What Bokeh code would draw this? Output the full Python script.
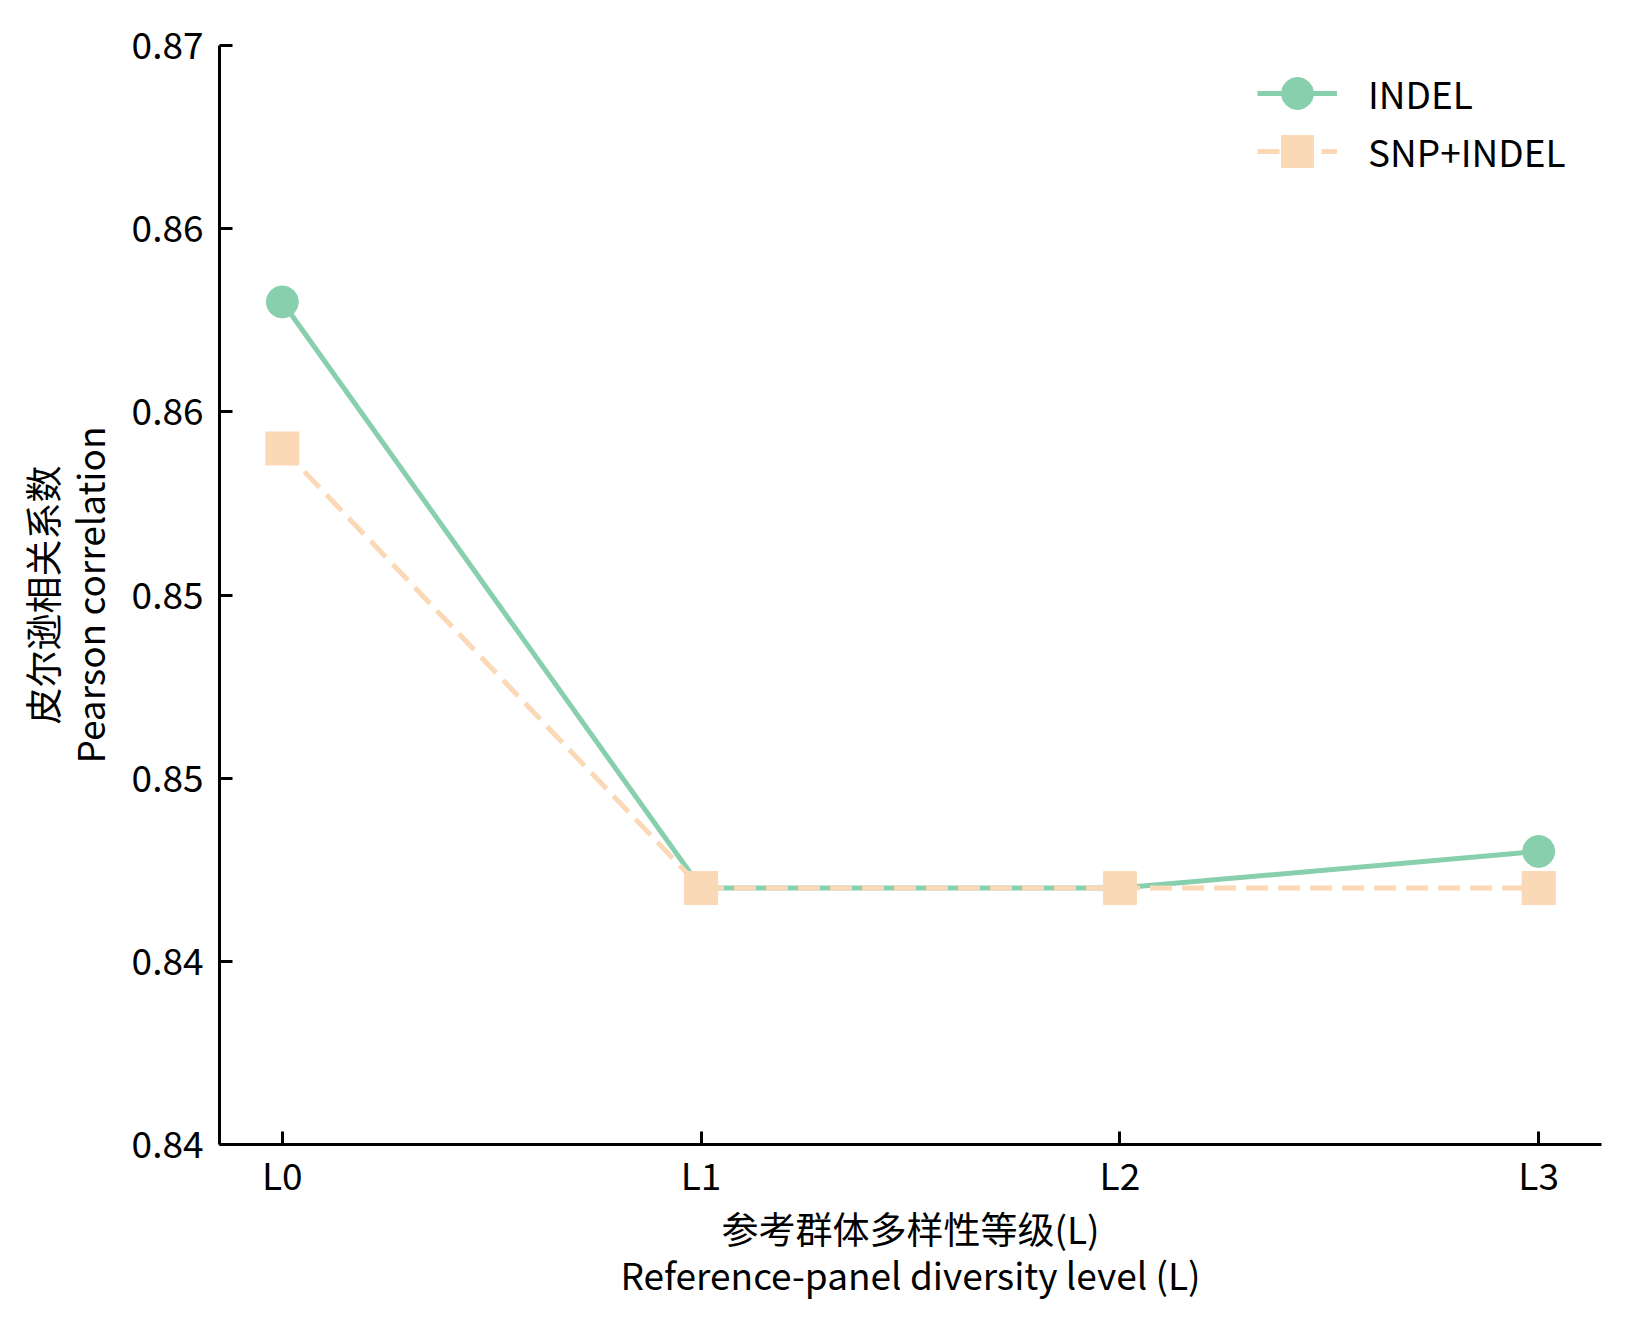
from bokeh.plotting import figure
from bokeh.models import Range1d, FixedTicker, CustomJSTickFormatter, Legend
from bokeh.embed import file_html
from bokeh.resources import INLINE

# ---- data ----
categories = ["L0", "L1", "L2", "L3"]
indel = [0.863, 0.847, 0.847, 0.848]
snp_indel = [0.859, 0.847, 0.847, 0.847]
y_ticks = [0.84, 0.845, 0.85, 0.855, 0.86, 0.865, 0.87]
y_tick_labels = ["0.84", "0.84", "0.85", "0.85", "0.86", "0.86", "0.87"]
series_names = ["INDEL", "SNP+INDEL"]
x_label = "参考群体多样性等级(L)\nReference-panel diversity level (L)"
y_label = "皮尔逊相关系数\nPearson correlation"

GREEN = "#88D0AD"
PEACH = "#FBD8B6"
FONT = "Noto Sans CJK SC"
FS = "37px"

x = list(range(len(categories)))

p = figure(
    output_backend="svg", toolbar_location=None,
    frame_width=1382, frame_height=1099,
    min_border_left=219, min_border_top=45, min_border_right=20, min_border_bottom=180,
    x_range=Range1d(-0.15, len(categories) - 1 + 0.15),
    y_range=Range1d(y_ticks[0], y_ticks[-1]),
    background_fill_color="white", border_fill_color="white",
)
p.outline_line_color = None
p.grid.visible = False

l1 = p.line(x, indel, line_color=GREEN, line_width=5)
s1 = p.scatter(x, indel, marker="circle", size=32, fill_color=GREEN, line_color=GREEN)
l2 = p.line(x, snp_indel, line_color=PEACH, line_width=5, line_dash="22 10")
s2 = p.scatter(x, snp_indel, marker="square", size=33, fill_color=PEACH, line_color=PEACH)

legend_style = dict(
    glyph_width=80, glyph_height=82, spacing=0,
    label_standoff=31, padding=0, margin=0,
    label_text_font=FONT, label_text_font_size=FS, label_text_color="black",
    border_line_alpha=0, background_fill_alpha=0,
)
legend1 = Legend(items=[(series_names[0], [l1, s1])], location=(1038, 1010), **legend_style)
legend2 = Legend(items=[(series_names[1], [l2, s2])], location=(1038, 952), **legend_style)
p.add_layout(legend1)
p.add_layout(legend2)

for ax in (p.xaxis[0], p.yaxis[0]):
    ax.axis_line_width = 3
    ax.axis_line_color = "black"
    ax.major_tick_line_width = 3
    ax.major_tick_in = 13
    ax.major_tick_out = 0
    ax.minor_tick_line_color = None
    ax.major_label_text_font = FONT
    ax.major_label_text_font_size = FS
    ax.major_label_text_color = "black"
    ax.axis_label_text_font = FONT
    ax.axis_label_text_font_size = FS
    ax.axis_label_text_font_style = "normal"
    ax.axis_label_text_color = "black"
    ax.axis_label_text_line_height = 0.86

p.xaxis.ticker = FixedTicker(ticks=x)
p.xaxis.formatter = CustomJSTickFormatter(args=dict(cat_labels=categories), code="""
    return cat_labels[Math.round(tick)];
""")
p.xaxis.axis_label = x_label
p.xaxis.major_label_standoff = 2
p.xaxis.axis_label_standoff = -3

p.yaxis.ticker = FixedTicker(ticks=y_ticks)
p.yaxis.formatter = CustomJSTickFormatter(args=dict(tick_vals=y_ticks, tick_text=y_tick_labels), code="""
    let best = 0;
    for (let i = 0; i < tick_vals.length; i++) {
        if (Math.abs(tick_vals[i] - tick) < Math.abs(tick_vals[best] - tick)) best = i;
    }
    return tick_text[best];
""")
p.yaxis.axis_label = y_label
p.yaxis.major_label_standoff = 16
p.yaxis.axis_label_standoff = 13

open("out.html", "w").write(file_html(p, INLINE))
